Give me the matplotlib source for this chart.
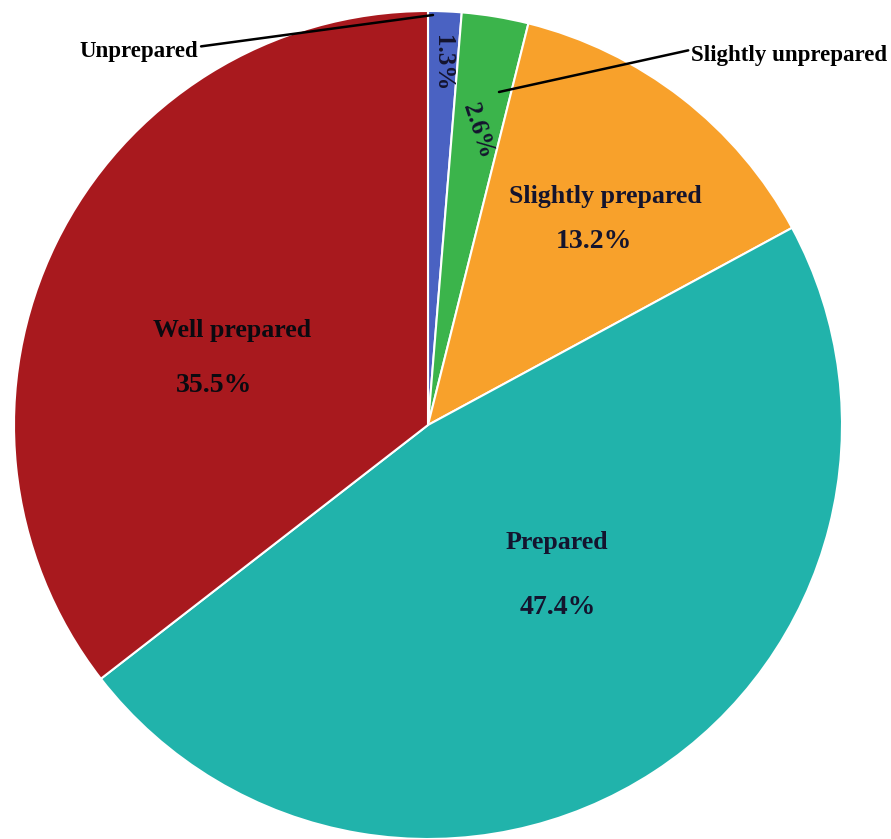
import matplotlib.pyplot as plt

# survey shares, clockwise from 12 o'clock
categories = ['Unprepared', 'Slightly unprepared', 'Slightly prepared', 'Prepared', 'Well prepared']
shares = [1.3, 2.6, 13.2, 47.4, 35.5]
colors = ['#4a62c2', '#3bb44b', '#f8a12b', '#21b3ab', '#a8191e']

W, H = 891, 839
fig = plt.figure(figsize=(W / 100, H / 100), dpi=100)
ax = fig.add_axes([0, 0, 1, 1])

cx, cy, r = 428, H - 425, 414
ax.pie(shares, colors=colors, startangle=90, counterclock=False,
       center=(cx, cy), radius=r, frame=True,
       wedgeprops=dict(edgecolor='white', linewidth=1.5))
ax.set_xlim(0, W)
ax.set_ylim(0, H)
ax.set_aspect('equal')
ax.axis('off')

base = dict(family='Liberation Serif', weight='bold', ha='center', va='center')
ink = '#14142e'
name_fs, pct_fs, call_fs = 18.6, 20, 16.5

def pct(v):
    return f'{v:.1f}%'

# labels inside the larger slices
ax.text(605, H - 197, categories[2], fontsize=name_fs, color=ink, **base)
ax.text(594, H - 241, pct(shares[2]), fontsize=pct_fs, color=ink, **base)
ax.text(557, H - 542, categories[3], fontsize=name_fs, color=ink, **base)
ax.text(558, H - 607, pct(shares[3]), fontsize=pct_fs, color=ink, **base)
ax.text(232, H - 330, categories[4], fontsize=name_fs, color='#0a0a10', **base)
ax.text(214, H - 385, pct(shares[4]), fontsize=pct_fs, color='#0a0a10', **base)

# rotated percentages in the thin slices
ax.text(443, H - 63, pct(shares[0]), rotation=-90, fontsize=18, color=ink, **base)
ax.text(478, H - 131, pct(shares[1]), rotation=-72, fontsize=18, color=ink, **base)

# callouts for the thin slices
ax.annotate(categories[0], xy=(433, H - 15), xytext=(139, H - 52),
            arrowprops=dict(arrowstyle='-', color='black', lw=1.8,
                            shrinkA=0, shrinkB=0, relpos=(1.0, 0.75)),
            fontsize=call_fs, color='black', **base)
ax.annotate(categories[1], xy=(499, H - 92), xytext=(789, H - 55),
            arrowprops=dict(arrowstyle='-', color='black', lw=1.8,
                            shrinkA=0, shrinkB=0, relpos=(0.0, 0.75)),
            fontsize=call_fs, color='black', **base)

fig.savefig('out.png', dpi=100, facecolor='white')
